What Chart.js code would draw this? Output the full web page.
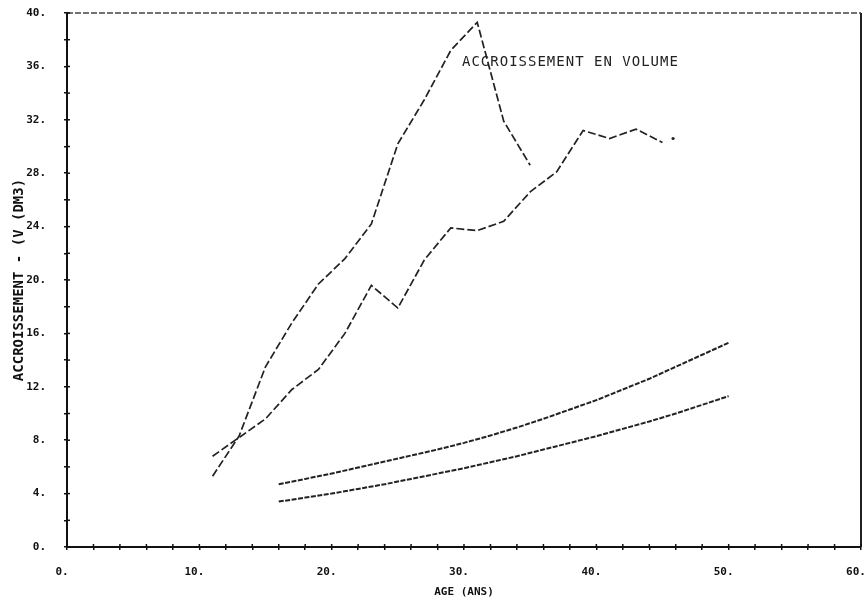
<!DOCTYPE html>
<html>
<head>
<meta charset="utf-8">
<script src="https://cdn.jsdelivr.net/npm/chart.js@4"></script>
<style>
  html, body { margin: 0; padding: 0; background: #fff; }
  #wrap { width: 866px; height: 601px; }
</style>
</head>
<body>
<div id="wrap"><canvas id="chart"></canvas></div>
<script>
// values
const agesA = [11, 13, 15, 17, 19, 21, 23, 25, 27, 29, 31, 33, 35];
const volA = [5.3, 8.3, 13.5, 16.8, 19.7, 21.6, 24.2, 30.2, 33.5, 37.2, 39.3, 31.9, 28.6];

const agesB = [11, 13, 15, 17, 19, 21, 23, 25, 27, 29, 31, 33, 35, 37, 39, 41, 43, 45];
const volB = [6.8, 8.2, 9.6, 11.8, 13.3, 16.0, 19.6, 17.9, 21.5, 23.9, 23.7, 24.4, 26.6, 28.1, 31.2, 30.6, 31.3, 30.3];

const dotX = [45.8];
const dotY = [30.6];

const agesC = [16, 18, 20, 22, 24, 26, 28, 30, 32, 34, 36, 38, 40, 42, 44, 46, 48, 50];
const volUpper = [4.7, 5.1, 5.5, 5.95, 6.4, 6.85, 7.3, 7.8, 8.35, 8.95, 9.6, 10.3, 11.0, 11.8, 12.6, 13.5, 14.4, 15.3];
const volLower = [3.4, 3.7, 4.0, 4.35, 4.7, 5.1, 5.5, 5.9, 6.35, 6.8, 7.3, 7.8, 8.3, 8.85, 9.4, 10.0, 10.65, 11.3];

const xLabelEvery = 10;
const yLabelEvery = 4;
const noteText = "ACCROISSEMENT EN VOLUME";
const notePos = { x: 29.85, y: 36.3 };

const ink = "#222";

function pts(xs, ys) {
  return xs.map((x, i) => ({ x: x, y: ys[i] }));
}

// frame: dashed top, solid right, inner tick marks, and the note text
const framePlugin = {
  id: "frame",
  afterDraw(chart) {
    const c = chart.ctx;
    const a = chart.chartArea;
    const xs = chart.scales.x;
    const ys = chart.scales.y;
    c.save();
    c.strokeStyle = "#444";
    c.lineWidth = 1.5;
    c.setLineDash([6, 2]);
    c.beginPath();
    c.moveTo(a.left, a.top);
    c.lineTo(a.right, a.top);
    c.stroke();
    c.setLineDash([]);
    c.strokeStyle = "#222";
    c.lineWidth = 2;
    c.beginPath();
    c.moveTo(a.right, a.top);
    c.lineTo(a.right, a.bottom);
    c.stroke();

    c.lineWidth = 1.5;
    c.strokeStyle = "#111";
    xs.ticks.forEach((t) => {
      const px = xs.getPixelForValue(t.value);
      c.beginPath();
      c.moveTo(px, a.bottom);
      c.lineTo(px, a.bottom - 3);
      c.stroke();
    });
    ys.ticks.forEach((t) => {
      const py = ys.getPixelForValue(t.value);
      c.beginPath();
      c.moveTo(a.left, py);
      c.lineTo(a.left + 3, py);
      c.stroke();
    });

    c.fillStyle = ink;
    c.font = "14px 'DejaVu Sans Mono', monospace";
    c.letterSpacing = "1px";
    c.textBaseline = "middle";
    c.textAlign = "left";
    c.fillText(noteText, xs.getPixelForValue(notePos.x), ys.getPixelForValue(notePos.y));
    c.restore();
  },
};

const lineStyle = {
  borderColor: ink,
  borderWidth: 1.7,
  pointRadius: 0,
  tension: 0,
  fill: false,
};

new Chart(document.getElementById("chart"), {
  type: "line",
  data: {
    datasets: [
      Object.assign({ label: "A", data: pts(agesA, volA), borderDash: [8, 3] }, lineStyle),
      Object.assign({ label: "B", data: pts(agesB, volB), borderDash: [8, 3] }, lineStyle),
      {
        label: "dot",
        data: pts(dotX, dotY),
        showLine: false,
        pointRadius: 1.6,
        pointBackgroundColor: ink,
        pointBorderWidth: 0,
      },
      Object.assign({ label: "C", data: pts(agesC, volUpper), borderDash: [5, 1.5] }, lineStyle, { borderWidth: 2 }),
      Object.assign({ label: "D", data: pts(agesC, volLower), borderDash: [5, 1.5] }, lineStyle, { borderWidth: 2 }),
    ],
  },
  options: {
    responsive: true,
    maintainAspectRatio: false,
    animation: false,
    layout: { padding: { top: 13, right: 5, left: 0, bottom: 0 } },
    plugins: {
      legend: { display: false },
      tooltip: { enabled: false },
    },
    scales: {
      x: {
        type: "linear",
        min: 0,
        max: 60,
        afterFit: (s) => {
          s.height = 54;
          s.paddingLeft = 0;
          s.paddingRight = 0;
        },
        border: { display: true, color: "#111", width: 2 },
        grid: { drawOnChartArea: false, color: "#111", tickLength: 3, lineWidth: 1.5 },
        ticks: {
          stepSize: 2,
          autoSkip: false,
          maxRotation: 0,
          padding: 16,
          labelOffset: -5,
          color: "#111",
          font: { family: "'DejaVu Sans Mono', monospace", weight: "bold", size: 11 },
          callback: (v) => (v % xLabelEvery === 0 ? v + "." : ""),
        },
        title: {
          display: true,
          text: "AGE (ANS)",
          color: "#111",
          font: { family: "'DejaVu Sans Mono', monospace", weight: "bold", size: 11 },
          padding: { top: 2, bottom: 2 },
        },
      },
      y: {
        type: "linear",
        min: 0,
        max: 40,
        afterFit: (s) => {
          s.width = 67;
          s.paddingTop = 0;
          s.paddingBottom = 0;
        },
        border: { display: true, color: "#111", width: 2 },
        grid: { drawOnChartArea: false, color: "#111", tickLength: 3, lineWidth: 1.5 },
        ticks: {
          stepSize: 2,
          autoSkip: false,
          padding: 18,
          color: "#111",
          font: { family: "'DejaVu Sans Mono', monospace", weight: "bold", size: 11 },
          callback: (v) => (v % yLabelEvery === 0 ? v + "." : ""),
        },
        title: {
          display: true,
          text: "ACCROISSEMENT - (V (DM3)",
          color: "#111",
          font: { family: "'DejaVu Sans Mono', monospace", weight: "bold", size: 14 },
          padding: { top: 11, bottom: 0 },
        },
      },
    },
  },
  plugins: [framePlugin],
});
</script>
</body>
</html>
